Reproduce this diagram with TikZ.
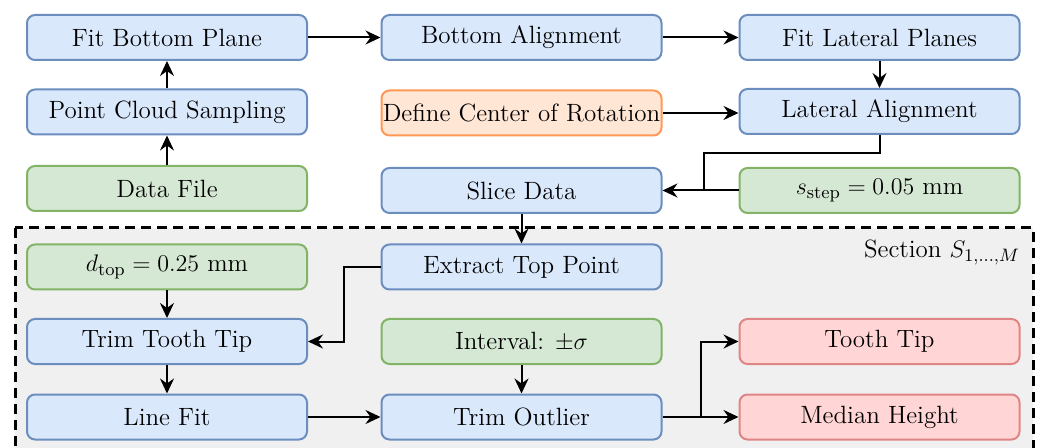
\documentclass[tikz,border=0pt]{standalone}
\usepackage{amsmath}
\usetikzlibrary{arrows.meta}
\definecolor{bfill}{HTML}{DAE8FC}
\definecolor{bdraw}{HTML}{6C8EBF}
\definecolor{gfill}{HTML}{D5E8D4}
\definecolor{gdraw}{HTML}{82B366}
\definecolor{ofill}{HTML}{FFE6D5}
\definecolor{odraw}{HTML}{FF9955}
\definecolor{rfill}{HTML}{FFD5D5}
\definecolor{rdraw}{HTML}{E08585}
\definecolor{secfill}{HTML}{F0F0F0}
\tikzset{
  box/.style={rectangle, rounded corners=4pt, line width=1pt, minimum width=140pt,
    minimum height=22.5pt, inner sep=0pt, align=center,
    font=\fontsize{12.5}{15}\selectfont},
  bluebox/.style={box, fill=bfill, draw=bdraw},
  greenbox/.style={box, fill=gfill, draw=gdraw},
  orangebox/.style={box, fill=ofill, draw=odraw},
  redbox/.style={box, fill=rfill, draw=rdraw},
  conn/.style={line width=1pt, -{Stealth[length=7.5pt,width=7pt,inset=2.5pt]}},
  plain/.style={line width=1pt},
}
\begin{document}
\begin{tikzpicture}[x=0.5pt,y=-0.5pt]
\useasboundingbox (0,0) rectangle (1037,448);
% section background
\path[fill=secfill] (15,228) rectangle (1033,470);
\draw[line width=1.5pt, dash pattern=on 5pt off 3pt] (15,228) rectangle (1033,470);
\node[anchor=east, font=\fontsize{12.5}{15}\selectfont] (sec) at (1027,252) {Section $S_{1,\ldots,M}$};
% top part
\node[bluebox] (fbp) at (167,37.5) {Fit Bottom Plane};
\node[bluebox] (pcs) at (167,112) {Point Cloud Sampling};
\node[greenbox] (df) at (167,188.5) {Data File};
\node[bluebox] (ba) at (521.5,37.5) {Bottom Alignment};
\node[orangebox] (dcr) at (521.5,113) {Define Center of Rotation};
\node[bluebox] (sd) at (521.5,190.5) {Slice Data};
\node[bluebox] (flp) at (879.5,37.5) {Fit Lateral Planes};
\node[bluebox] (la) at (879.5,111.5) {Lateral Alignment};
\node[greenbox] (ss) at (879.5,190.5) {$s_{\mathrm{step}} = 0.05$ mm};
% section part
\node[greenbox] (dt) at (167,267) {$d_{\mathrm{top}} = 0.25$ mm};
\node[bluebox] (ttt) at (167,341.5) {Trim Tooth Tip};
\node[bluebox] (lf) at (167,417) {Line Fit};
\node[bluebox] (etp) at (521.5,267) {Extract Top Point};
\node[greenbox] (iv) at (521.5,341.5) {Interval: $\pm\sigma$};
\node[bluebox] (to) at (521.5,417) {Trim Outlier};
\node[redbox] (tt) at (879.5,341.5) {Tooth Tip};
\node[redbox] (mh) at (879.5,417) {Median Height};
% coordinates for joints
\coordinate (j1) at (704,190.5);
\coordinate (j2) at (344,267);
\coordinate (j3) at (701,417);
% connectors
\draw[conn] (df) -- (pcs);
\draw[conn] (pcs) -- (fbp);
\draw[conn] (fbp) -- (ba);
\draw[conn] (ba) -- (flp);
\draw[conn] (flp) -- (la);
\draw[conn] (dcr) -- (la.west |- dcr);
\draw[plain] (la.south) -- ++(0,18) -| (j1);
\draw[conn] (ss.west) -- (sd.east);
\draw[conn] (sd) -- (etp);
\draw[conn] (etp.west) -- (j2) |- (ttt.east);
\draw[conn] (dt) -- (ttt);
\draw[conn] (ttt) -- (lf);
\draw[conn] (lf) -- (to);
\draw[conn] (iv) -- (to);
\draw[conn] (to.east) -- (j3) |- (tt.west);
\draw[conn] (j3) -- (mh.west);
\end{tikzpicture}
\end{document}
